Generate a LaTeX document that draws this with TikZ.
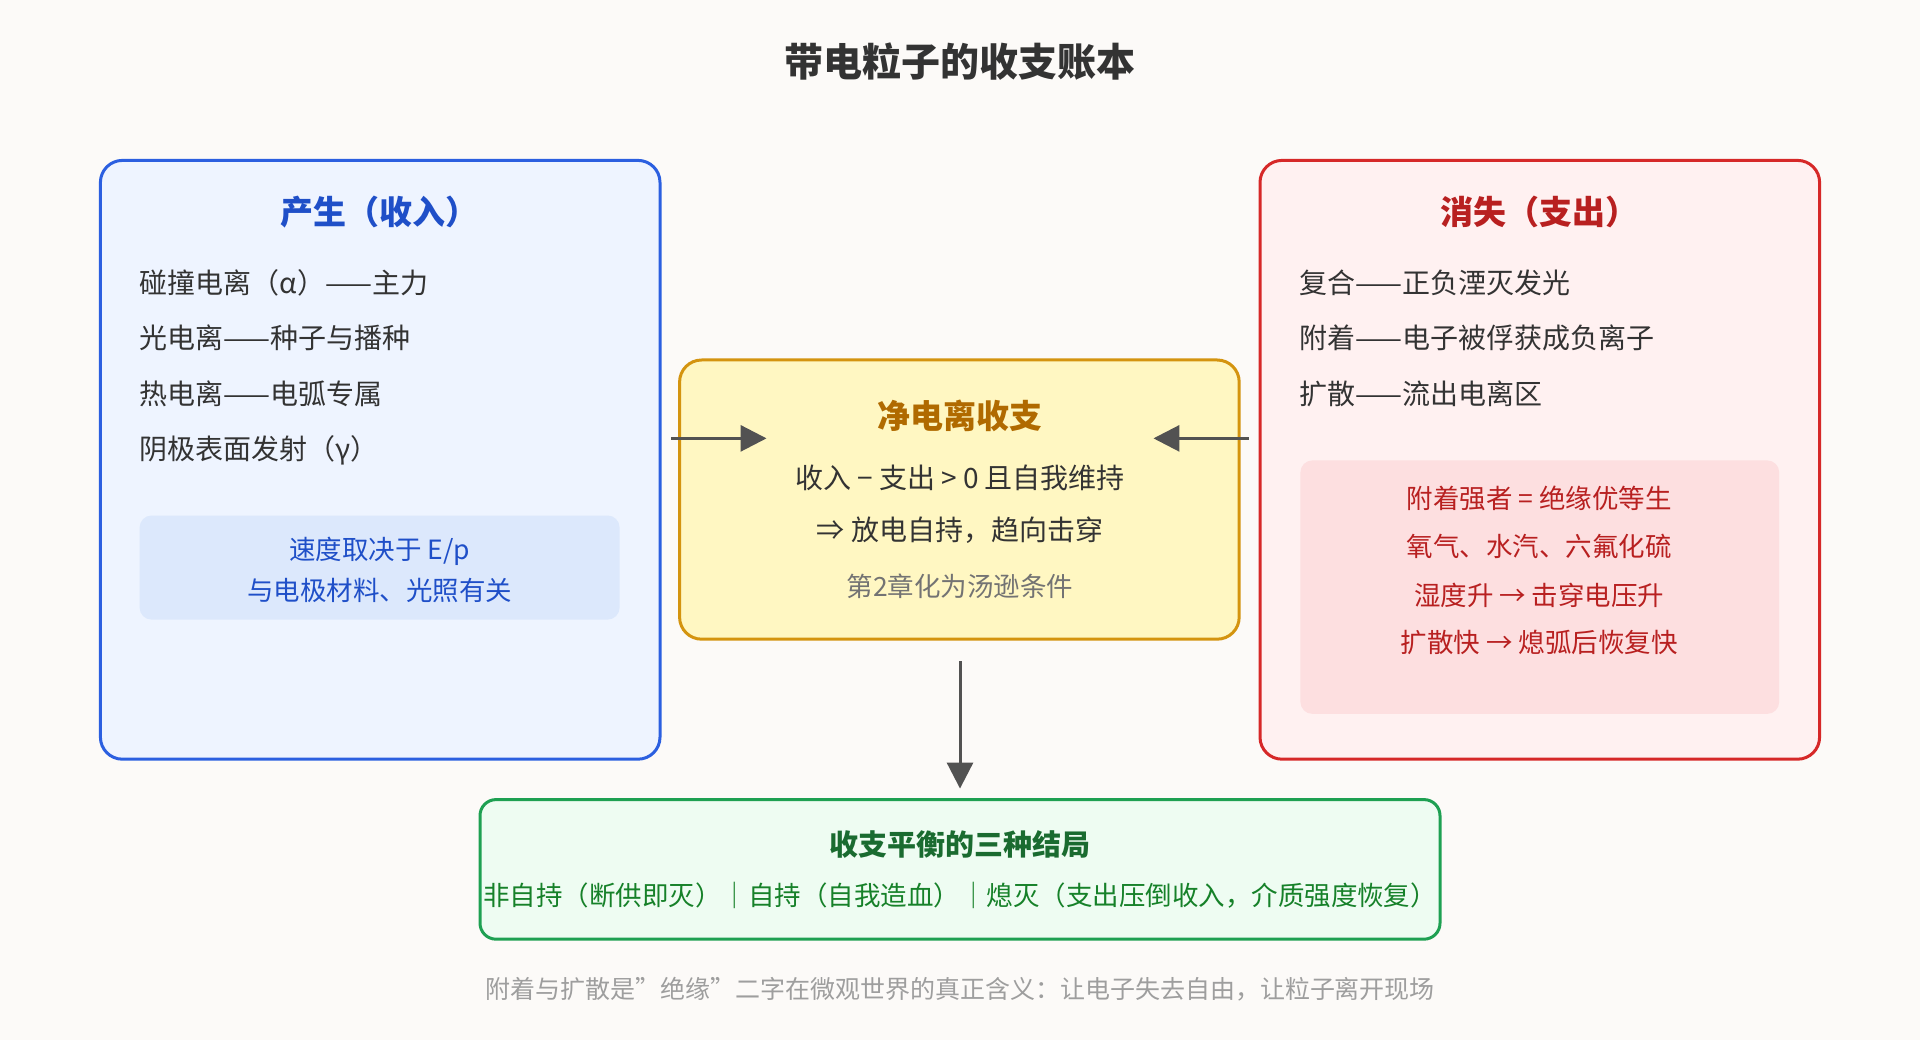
\documentclass[tikz,border=0pt]{standalone}
\usepackage{fontspec}
\setmainfont{Noto Sans CJK SC}
\usetikzlibrary{arrows.meta}
\definecolor{bg}{HTML}{FCFAF8}
\definecolor{bluebd}{HTML}{2B5FE0}
\definecolor{bluefill}{HTML}{EEF4FF}
\definecolor{blueinner}{HTML}{DCE8FC}
\definecolor{bluetxt}{HTML}{1F4FC8}
\definecolor{redbd}{HTML}{D62828}
\definecolor{redfill}{HTML}{FFF1F1}
\definecolor{redinner}{HTML}{FDDFE0}
\definecolor{redtxt}{HTML}{B82020}
\definecolor{yelbd}{HTML}{D4940F}
\definecolor{yelfill}{HTML}{FFF7C2}
\definecolor{yeltxt}{HTML}{B06A00}
\definecolor{grnbd}{HTML}{1EA052}
\definecolor{grnfill}{HTML}{EEFCF2}
\definecolor{grntxt}{HTML}{1A6B30}
\definecolor{txt}{HTML}{333333}
\begin{document}
\begin{tikzpicture}[x=1.2245pt,y=-1.2245pt,
  box/.style={rounded corners=22pt,line width=3pt},
  inner/.style={rounded corners=12pt,draw=none},
  item/.style={anchor=west,inner sep=0,font=\fontsize{28}{32}\selectfont,text=txt},
  ttl/.style={font=\fontsize{33}{38}\selectfont\bfseries},
  ctr/.style={inner sep=0,font=\fontsize{28}{32}\selectfont},
  sm/.style={font=\fontsize{26.5}{30}\selectfont},
  arr/.style={draw=black!68,line width=3pt,-{Triangle[length=26pt,width=26pt]}}]
\fill[bg] (0,0) rectangle (1568,849.3);
\useasboundingbox (0,0) rectangle (1568,849.3);
\node[ttl,font=\fontsize{39}{44}\selectfont\bfseries,text=txt] (title) at (784,50) {带电粒子的收支账本};
% left
\draw[box,draw=bluebd,fill=bluefill] (82,131) rectangle (539,620);
\node[ttl,text=bluetxt] (lt) at (310,173) {产生（收入）};
\node[item] (l1) at (114,231) {碰撞电离（α）——主力};
\node[item] (l2) at (114,276) {光电离——种子与播种};
\node[item] (l3) at (114,322) {热电离——电弧专属};
\node[item] (l4) at (114,368) {阴极表面发射（γ）};
\fill[inner,blueinner] (114,421) rectangle (506,506);
\node[ctr,sm,text=bluetxt] (lb1) at (310,450) {速度取决于 E/p};
\node[ctr,sm,text=bluetxt] (lb2) at (310,482) {与电极材料、光照有关};
% middle
\draw[box,draw=yelbd,fill=yelfill] (555,294) rectangle (1012,522);
\node[ttl,text=yeltxt] (mt) at (784,340) {净电离收支};
\node[ctr,text=txt] (m1) at (784,390) {收入 − 支出 > 0 且自我维持};
\node[ctr,text=txt] (m2) at (784,433) {⇒ 放电自持，趋向击穿};
\node[ctr,sm,text=black!55] (m3) at (784,479) {第2章化为汤逊条件};
% right
\draw[box,draw=redbd,fill=redfill] (1029,131) rectangle (1486,620);
\node[ttl,text=redtxt] (rt) at (1257,173) {消失（支出）};
\node[item] (r1) at (1061,231) {复合——正负湮灭发光};
\node[item] (r2) at (1061,276) {附着——电子被俘获成负离子};
\node[item] (r3) at (1061,322) {扩散——流出电离区};
\fill[inner,redinner] (1062,376) rectangle (1453,583);
\node[ctr,sm,text=redtxt] (rb1) at (1257,407) {附着强者 = 绝缘优等生};
\node[ctr,sm,text=redtxt] (rb2) at (1257,446) {氧气、水汽、六氟化硫};
\node[ctr,sm,text=redtxt] (rb3) at (1257,486) {湿度升 → 击穿电压升};
\node[ctr,sm,text=redtxt] (rb4) at (1257,525) {扩散快 → 熄弧后恢复快};
% bottom
\draw[box,rounded corners=16pt,draw=grnbd,fill=grnfill] (392,653) rectangle (1176,767);
\node[ttl,text=grntxt,font=\fontsize{29}{33}\selectfont\bfseries] (bt) at (784,690) {收支平衡的三种结局};
\node[ctr,sm,text=grntxt!85!green] (b1) at (784,731) {非自持（断供即灭）｜自持（自我造血）｜熄灭（支出压倒收入，介质强度恢复）};
\node[ctr,text=black!38,font=\fontsize{25}{29}\selectfont] (foot) at (784,808) {附着与扩散是\symbol{34}绝缘\symbol{34}二字在微观世界的真正含义：让电子失去自由，让粒子离开现场};
% arrows
\coordinate (a1s) at (548,358); \coordinate (a1e) at (626,358);
\coordinate (a2s) at (1020,358); \coordinate (a2e) at (942,358);
\coordinate (a3s) at (784,540); \coordinate (a3e) at (784,644);
\draw[arr] (a1s) -- (a1e);
\draw[arr] (a2s) -- (a2e);
\draw[arr] (a3s) -- (a3e);
\end{tikzpicture}
\end{document}
